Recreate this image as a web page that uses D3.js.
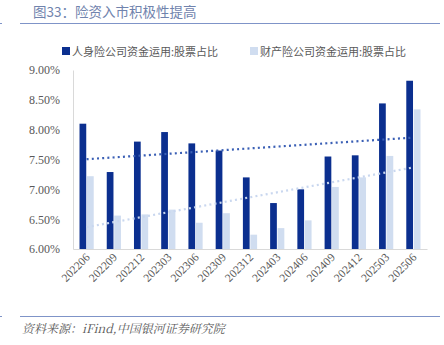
<!DOCTYPE html>
<html><head><meta charset="utf-8">
<script src="https://cdn.jsdelivr.net/npm/d3@7"></script>
<style>body{margin:0;background:#fff;}svg{display:block;}</style>
</head><body>
<svg id="c" width="444" height="345"></svg>
<script>
const categories = ["202206","202209","202212","202303","202306","202309","202312","202403","202406","202409","202412","202503","202506"];
const lifeValues = [8.10,7.29,7.80,7.96,7.77,7.65,7.20,6.77,7.00,7.55,7.57,8.44,8.82];
const propValues = [7.22,6.56,6.58,6.66,6.44,6.60,6.24,6.35,6.48,7.04,7.20,7.56,8.34];
const seriesNames = ["人身险公司资金运用:股票占比","财产险公司资金运用:股票占比"];
const yTicks = [6.0,6.5,7.0,7.5,8.0,8.5,9.0];
const title = "图33：险资入市积极性提高";
const source = "资料来源：iFind,中国银河证券研究院";

const colors = ["#0b2f8f","#d0ddf0"];
const trendColors = ["#3a5fb5","#c9d7ef"];

const svg = d3.select("#c");
const m = {l:73, r:427, t:70, b:249};
const x = d3.scaleBand().domain(categories).range([m.l,m.r]);
const x1 = d3.scaleBand().domain([0,1]).range([0,14.2]).paddingInner(0.1);
const y = d3.scaleLinear().domain([6,9]).range([m.b,m.t]);

// title
svg.append("text").attr("x",33).attr("y",17).text(title)
  .attr("font-family","'Noto Sans CJK SC'").attr("font-size",13.5).attr("fill","#7083ad");
svg.append("line").attr("x1",20).attr("x2",440).attr("y1",23.5).attr("y2",23.5).attr("stroke","#7f94c8").attr("stroke-width",1);
svg.append("line").attr("x1",0).attr("x2",2).attr("y1",23.5).attr("y2",23.5).attr("stroke","#7f94c8").attr("stroke-width",1);

// legend
const lg = [[62,72],[250,260]];
seriesNames.forEach((n,i)=>{
  svg.append("rect").attr("x",lg[i][0]).attr("y",47).attr("width",8).attr("height",8).attr("fill",colors[i]);
  svg.append("text").attr("x",lg[i][1]).attr("y",55.5).text(n)
    .attr("font-family","'Noto Sans CJK SC'").attr("font-size",11).attr("fill","#595959");
});

// y axis
const ya = svg.append("g").attr("transform",`translate(${m.l},0)`)
  .call(d3.axisLeft(y).tickValues(yTicks).tickSize(0).tickPadding(13).tickFormat(d=>d.toFixed(2)+"%"));
ya.select(".domain").attr("stroke","#d9d9d9");
ya.selectAll("text").attr("font-family","'Liberation Serif'").attr("font-size",12).attr("fill","#595959");

// x axis
const xa = svg.append("g").attr("transform",`translate(0,${m.b})`)
  .call(d3.axisBottom(x).tickSize(0).tickPadding(0));
xa.select(".domain").attr("stroke","#d9d9d9");
xa.selectAll("text").attr("font-family","'Liberation Serif'").attr("font-size",11.5).attr("fill","#595959")
  .attr("text-anchor","end").attr("dy",0).attr("transform","translate(4,9) rotate(-45)");

// bars
const series = [lifeValues, propValues];
series.forEach((vals,si)=>{
  svg.append("g").selectAll("rect").data(vals).join("rect")
    .attr("x",(d,i)=>x(categories[i]) + x.bandwidth()/2 - 7.1 + x1(si))
    .attr("width",x1.bandwidth())
    .attr("y",d=>y(d)).attr("height",d=>y(6)-y(d))
    .attr("fill",colors[si]);
});

// linear trendlines
series.forEach((vals,si)=>{
  const n = vals.length, mx=(n-1)/2, my=d3.mean(vals);
  let sxy=0,sxx=0; vals.forEach((v,i)=>{sxy+=(i-mx)*(v-my); sxx+=(i-mx)*(i-mx);});
  const b=sxy/sxx, a=my-b*mx;
  const cx = i=> x(categories[i])+x.bandwidth()/2;
  svg.append("line").attr("x1",cx(0)).attr("x2",cx(n-1))
    .attr("y1",y(a)).attr("y2",y(a+b*(n-1)))
    .attr("stroke",trendColors[si]).attr("stroke-width",2.2).attr("stroke-dasharray","2,3.2");
});

// bottom line + source
svg.append("line").attr("x1",20).attr("x2",440).attr("y1",316.5).attr("y2",316.5).attr("stroke","#7f94c8").attr("stroke-width",1);
svg.append("line").attr("x1",0).attr("x2",2).attr("y1",316.5).attr("y2",316.5).attr("stroke","#7f94c8").attr("stroke-width",1);
svg.append("text").attr("x",22).attr("y",333).text(source)
  .attr("font-family","'Noto Serif CJK SC','Noto Sans CJK SC'").attr("font-style","italic")
  .attr("font-size",12).attr("fill","#595959");
</script>
</body></html>
